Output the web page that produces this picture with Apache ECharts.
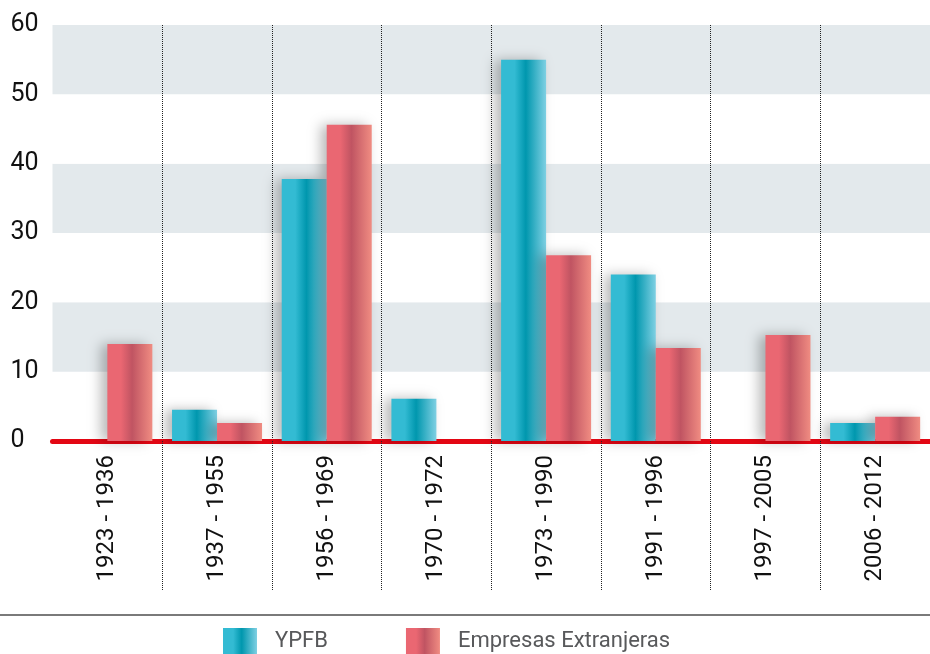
<!DOCTYPE html>
<html>
<head>
<meta charset="utf-8">
<script src="https://cdn.jsdelivr.net/npm/echarts@6/dist/echarts.min.js"></script>
<style>
  html, body { margin: 0; padding: 0; background: #fff; }
  #chart { width: 930px; height: 654px; }
</style>
</head>
<body>
<div id="chart"></div>
<script>
// periodos
const categories = ['1923 - 1936', '1937 - 1955', '1956 - 1969', '1970 - 1972', '1973 - 1990', '1991 - 1996', '1997 - 2005', '2006 - 2012'];
// valores
const ypfb = [0, 4.5, 37.8, 6.1, 55.0, 24.0, 0, 2.6];
const empresas = [14.0, 2.6, 45.6, 0, 26.8, 13.4, 15.3, 3.5];
const yTicks = [0, 10, 20, 30, 40, 50, 60];

const font = 'Roboto, sans-serif';

// degradado horizontal de las barras
function grad(a, b, c) {
  return {
    type: 'linear', x: 0, y: 0, x2: 1, y2: 0,
    colorStops: [
      { offset: 0, color: a },
      { offset: 0.3, color: a },
      { offset: 0.55, color: b },
      { offset: 1, color: c }
    ]
  };
}

const myChart = echarts.init(document.getElementById('chart'));
myChart.setOption({
  animation: false,
  grid: { left: 52.5, top: 25, bottom: 213, width: 886 },
  legend: {
    top: 628,
    left: 223,
    padding: 0,
    itemWidth: 34,
    itemHeight: 26,
    itemGap: 78,
    icon: 'rect',
    textStyle: { fontFamily: font, fontSize: 22, color: '#58595b', padding: [0, 0, 0, 13] },
    data: ['YPFB', 'Empresas Extranjeras']
  },
  xAxis: {
    type: 'category',
    data: categories,
    axisLine: { show: true, lineStyle: { color: '#e30613', width: 5 } },
    axisTick: {
      show: true,
      length: 150,
      interval: (i) => i !== 0,
      lineStyle: { color: '#222', type: [1, 1], width: 1 }
    },
    splitLine: {
      show: true,
      showMinLine: false,
      lineStyle: { color: '#222', type: [1, 1], width: 1 }
    },
    axisLabel: {
      rotate: 90,
      margin: 14,
      fontFamily: font,
      fontSize: 24,
      color: '#111'
    }
  },
  yAxis: {
    type: 'value',
    min: 0,
    max: 60,
    interval: 10,
    axisLine: { show: false },
    axisTick: { show: false },
    splitLine: { show: false },
    splitArea: { show: true, areaStyle: { color: ['#ffffff', '#e3e9ec'] } },
    axisLabel: {
      align: 'left',
      margin: 42,
      fontFamily: font,
      fontSize: 25,
      color: '#111',
      formatter: v => (yTicks.indexOf(v) >= 0 ? String(v) : '')
    }
  },
  series: [
    {
      name: 'YPFB',
      type: 'bar',
      data: ypfb,
      barWidth: 45,
      barGap: '0%',
      itemStyle: {
        color: grad('#33bbd3', '#0097ae', '#7fd0e3'),
        shadowBlur: 12,
        shadowColor: 'rgba(0,0,0,0.28)',
        shadowOffsetX: -6
      }
    },
    {
      name: 'Empresas Extranjeras',
      type: 'bar',
      data: empresas,
      barWidth: 45,
      itemStyle: {
        color: grad('#ea6772', '#c05462', '#f08c82'),
        shadowBlur: 12,
        shadowColor: 'rgba(0,0,0,0.28)',
        shadowOffsetX: -6
      }
    }
  ],
  graphic: [
    {
      type: 'line',
      shape: { x1: 0, y1: 615, x2: 930, y2: 615 },
      style: { stroke: '#7a7a7a', lineWidth: 2 }
    }
  ]
});
</script>
</body>
</html>
